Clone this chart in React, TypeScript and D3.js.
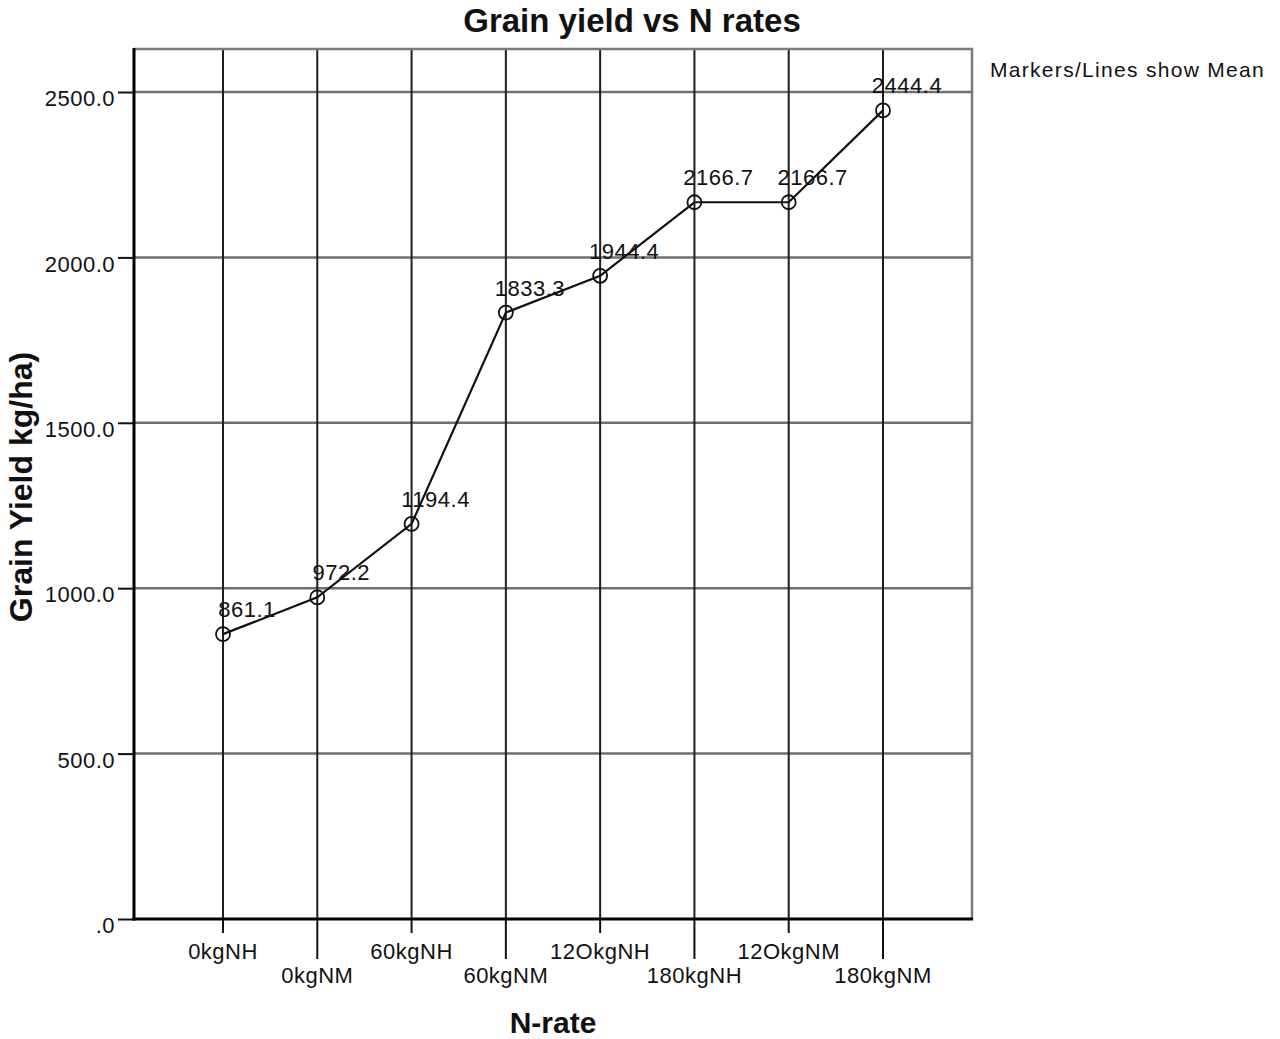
import React, { useEffect, useRef } from 'react';
import * as d3 from 'd3';

const categories = ['0kgNH', '0kgNM', '60kgNH', '60kgNM', '12OkgNH', '180kgNH', '12OkgNM', '180kgNM'];
const meanYield = [861.1, 972.2, 1194.4, 1833.3, 1944.4, 2166.7, 2166.7, 2444.4];
const yTickValues = [0, 500, 1000, 1500, 2000, 2500];
const yTickLabels = ['.0', '500.0', '1000.0', '1500.0', '2000.0', '2500.0'];

const WIDTH = 1280;
const HEIGHT = 1039;
const FONT = '"Liberation Sans", Arial, sans-serif';

const App: React.FC = () => {
  const svgRef = useRef<SVGSVGElement>(null);

  useEffect(() => {
    const svgElement = svgRef.current;
    if (!svgElement) return;
    const svg = d3.select(svgElement);
    svg.selectAll('*').remove();

    const plot = { left: 134, right: 972, top: 49, bottom: 919 };

    const xScale = d3
      .scalePoint<string>()
      .domain(categories)
      .range([plot.left, plot.right])
      .padding(0.944);

    const yScale = d3.scaleLinear().domain([0, 2630]).range([plot.bottom, plot.top]);

    svg.append('rect').attr('width', WIDTH).attr('height', HEIGHT).attr('fill', '#fff');

    // horizontal grid
    svg.append('g')
      .selectAll('line')
      .data(yTickValues.slice(1))
      .enter()
      .append('line')
      .attr('x1', plot.left)
      .attr('x2', plot.right)
      .attr('y1', d => yScale(d))
      .attr('y2', d => yScale(d))
      .style('stroke', '#6f6f6f')
      .style('stroke-width', 2.5);

    // vertical grid
    svg.append('g')
      .selectAll('line')
      .data(categories)
      .enter()
      .append('line')
      .attr('x1', d => xScale(d)!)
      .attr('x2', d => xScale(d)!)
      .attr('y1', plot.top)
      .attr('y2', plot.bottom)
      .style('stroke', '#1e1e1e')
      .style('stroke-width', 2);

    // top / right frame
    svg.append('path')
      .attr('d', `M${plot.left},${plot.top}H${plot.right}V${plot.bottom}`)
      .attr('fill', 'none')
      .style('stroke', '#7a7a7a')
      .style('stroke-width', 2.5);

    // Y axis
    const yAxis = svg.append('g').attr('transform', `translate(${plot.left},0)`);
    yAxis.call(
      d3.axisLeft(yScale)
        .tickValues(yTickValues)
        .tickSize(16)
        .tickPadding(3)
        .tickFormat((_, i) => yTickLabels[i])
    );
    yAxis.select('.domain').remove();
    yAxis.selectAll('.tick line').style('stroke', '#111').style('stroke-width', 2);
    yAxis.selectAll('.tick text')
      .attr('dy', '0.62em')
      .style('fill', '#111')
      .style('font-family', FONT)
      .style('font-size', '22px')
      .style('letter-spacing', '0.5px');

    // X axis with staggered labels
    const xAxis = svg.append('g').attr('transform', `translate(0,${plot.bottom})`);
    categories.forEach((c, i) => {
      const x = xScale(c)!;
      const len = i % 2 === 0 ? 14 : 40;
      xAxis.append('line')
        .attr('x1', x).attr('x2', x)
        .attr('y1', 0).attr('y2', len)
        .style('stroke', '#111')
        .style('stroke-width', 2);
      xAxis.append('text')
        .attr('x', x)
        .attr('y', i % 2 === 0 ? 40 : 64)
        .attr('text-anchor', 'middle')
        .style('fill', '#111')
        .style('font-family', FONT)
        .style('font-size', '22px')
        .style('letter-spacing', '0.5px')
        .text(c);
    });

    // axis lines
    svg.append('line')
      .attr('x1', plot.left).attr('x2', plot.left)
      .attr('y1', plot.top - 1).attr('y2', plot.bottom + 1.5)
      .style('stroke', '#000').style('stroke-width', 3);
    svg.append('line')
      .attr('x1', plot.left - 1.5).attr('x2', plot.right + 1)
      .attr('y1', plot.bottom).attr('y2', plot.bottom)
      .style('stroke', '#000').style('stroke-width', 3);

    // mean line
    const points = categories.map((c, i) => ({ c, v: meanYield[i] }));
    const line = d3.line<{ c: string; v: number }>()
      .x(d => xScale(d.c)!)
      .y(d => yScale(d.v));

    svg.append('path')
      .datum(points)
      .attr('d', line)
      .attr('fill', 'none')
      .style('stroke', '#111')
      .style('stroke-width', 2.2);

    svg.append('g')
      .selectAll('circle')
      .data(points)
      .enter()
      .append('circle')
      .attr('cx', d => xScale(d.c)!)
      .attr('cy', d => yScale(d.v))
      .attr('r', 7)
      .attr('fill', 'none')
      .style('stroke', '#111')
      .style('stroke-width', 1.8);

    svg.append('g')
      .selectAll('text')
      .data(points)
      .enter()
      .append('text')
      .attr('x', d => xScale(d.c)! + 24)
      .attr('y', d => yScale(d.v) - 17)
      .attr('text-anchor', 'middle')
      .style('fill', '#111')
      .style('font-family', FONT)
      .style('font-size', '22px')
      .style('letter-spacing', '0.5px')
      .text(d => d.v.toFixed(1));

    // titles
    svg.append('text')
      .attr('x', 632)
      .attr('y', 32)
      .attr('text-anchor', 'middle')
      .style('font-family', FONT)
      .style('font-weight', 'bold')
      .style('font-size', '33px')
      .style('fill', '#111')
      .text('Grain yield vs N rates');

    svg.append('text')
      .attr('transform', `translate(32,${(plot.top + plot.bottom) / 2 + 3}) rotate(-90)`)
      .attr('text-anchor', 'middle')
      .style('font-family', FONT)
      .style('font-weight', 'bold')
      .style('font-size', '32px')
      .style('fill', '#111')
      .text('Grain Yield kg/ha)');

    svg.append('text')
      .attr('x', (plot.left + plot.right) / 2)
      .attr('y', 1033)
      .attr('text-anchor', 'middle')
      .style('font-family', FONT)
      .style('font-weight', 'bold')
      .style('font-size', '30px')
      .style('fill', '#111')
      .text('N-rate');

    svg.append('text')
      .attr('x', 990)
      .attr('y', 77)
      .style('font-family', FONT)
      .style('font-size', '21px')
      .style('letter-spacing', '1.3px')
      .style('fill', '#111')
      .text('Markers/Lines show Mean');
  }, []);

  return (
    <svg
      ref={svgRef}
      width={WIDTH}
      height={HEIGHT}
      style={{ position: 'absolute', left: 0, top: 0, display: 'block' }}
    />
  );
};

export default App;
